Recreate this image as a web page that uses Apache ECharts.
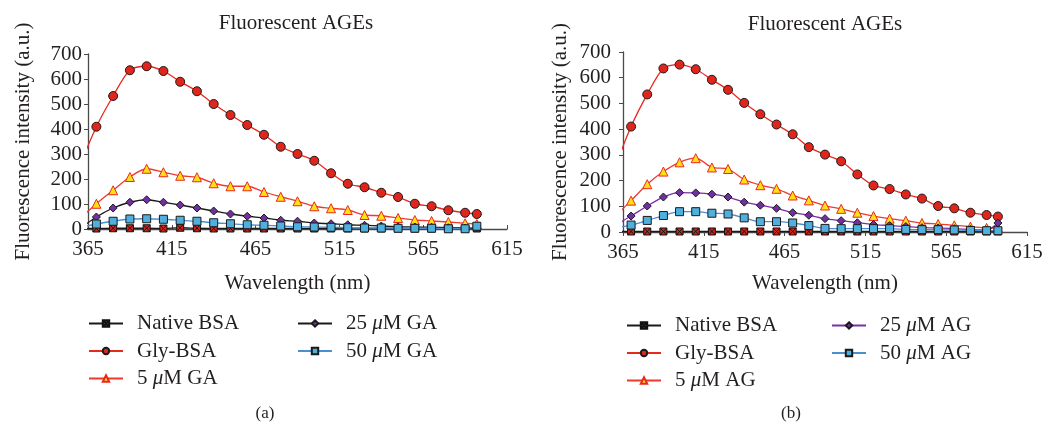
<!DOCTYPE html>
<html>
<head>
<meta charset="utf-8">
<title>Fluorescent AGEs</title>
<script src="https://cdn.jsdelivr.net/npm/echarts@6/dist/echarts.min.js"></script>
<style>
  html, body { margin: 0; padding: 0; background: #fff; }
  #chart { width: 1053px; height: 427px; }
</style>
</head>
<body>
<div id="chart"></div>
<script>
// wavelength (nm); first point sits left of the axis min and gets clipped
const wavelength = [360, 370, 380, 390, 400, 410, 420, 430, 440, 450, 460, 470, 480, 490, 500, 510, 520, 530, 540, 550, 560, 570, 580, 590, 597]
const xTicks = [365, 415, 465, 515, 565, 615]

// (a) GA
const nativeGA = [2, 2, 3, 3, 3, 2, 5, 3, 2, 2, 2, 2, 2, 2, 2, 2, 2, 2, 2, 2, 2, 2, 2, 2, 2]
const glyBSA = [250, 409, 532, 635, 651, 632, 589, 551, 500, 456, 416, 377, 329, 300, 273, 223, 181, 167, 145, 128, 101, 91, 75, 65, 60]
const ga5 = [40, 101, 155, 208, 241, 227, 213, 207, 183, 171, 171, 148, 129, 111, 91, 83, 76, 56, 53, 44, 36, 32, 28, 23, 20]
const ga25 = [0, 48, 84, 107, 117, 107, 96, 84, 72, 60, 51, 44, 35, 31, 24, 21, 17, 15, 12, 9, 8, 7, 5, 4, 4]
const ga50 = [5, 20, 31, 40, 41, 39, 35, 31, 25, 21, 17, 15, 12, 9, 8, 7, 5, 4, 4, 3, 3, 3, 1, 1, 11]

// (b) AG
const nativeAG = [2, 2, 2, 2, 2, 2, 2, 2, 2, 2, 2, 2, 2, 2, 2, 2, 2, 2, 2, 2, 2, 2, 2, 2, 2]
const glyBSA2 = [250, 410, 535, 636, 651, 633, 592, 553, 502, 458, 418, 380, 330, 301, 275, 224, 181, 167, 146, 130, 101, 92, 75, 66, 60]
const ag5 = [60, 122, 186, 235, 271, 287, 251, 245, 204, 182, 168, 142, 123, 103, 90, 75, 62, 52, 44, 35, 31, 26, 21, 16, 15]
const ag25 = [25, 62, 101, 136, 153, 152, 147, 136, 116, 104, 92, 75, 65, 52, 44, 36, 29, 25, 21, 17, 16, 13, 10, 8, 35]
const ag50 = [15, 27, 45, 64, 79, 79, 73, 70, 55, 40, 40, 35, 25, 14, 13, 13, 13, 13, 10, 9, 9, 8, 6, 5, 5]

const FONT = '"Liberation Serif", "Times New Roman", serif'
const TXT = '#231f20'
const AXIS = '#4a4a4a'
const crossBox = 'path://M0,0H10V10H0Z M0,0L10,10 M10,0L0,10'

function pairs(ys) {
  return wavelength.map((x, i) => [x, ys[i]])
}

// marker / line look per series kind
const looks = {
  native: { symbol: crossBox, size: 7, fill: '#d8231c', border: '#111', line: '#1a1a1a' },
  gly: { symbol: 'circle', size: 9, fill: '#e0261c', border: '#1a1a1a', line: '#e8291e' },
  low: { symbol: 'triangle', size: 9, fill: '#ffe014', border: '#e8291e', line: '#ee3a2e' },
  mid: { symbol: 'diamond', size: 8, fill: '#7030a0', border: '#1a1a1a', line: '#1a1a1a' },
  high: { symbol: 'rect', size: 8, fill: '#4fb0dd', border: '#1a1a1a', line: '#4a8fd2' }
}

function makeSeries(name, ys, look, idx, lineColor) {
  return {
    name: name,
    type: 'line',
    xAxisIndex: idx,
    yAxisIndex: idx,
    data: pairs(ys),
    smooth: 0.3,
    symbol: look.symbol,
    symbolSize: look.size,
    showAllSymbol: true,
    clip: true,
    lineStyle: { color: lineColor || look.line, width: 1.3 },
    itemStyle: { color: look.fill, borderColor: look.border, borderWidth: 1 },
    emphasis: { disabled: true }
  }
}

function xAxis(idx, tickInside) {
  return {
    gridIndex: idx,
    type: 'value',
    min: 365,
    max: 615,
    interval: 50,
    name: 'Wavelength (nm)',
    nameLocation: 'middle',
    nameGap: idx === 0 ? 44 : 41,
    nameTextStyle: { fontFamily: FONT, fontSize: 21, color: TXT },
    splitLine: { show: false },
    axisLine: { lineStyle: { color: AXIS, width: 1.3 } },
    axisTick: { inside: tickInside, length: 4, lineStyle: { color: AXIS } },
    axisLabel: { fontFamily: FONT, fontSize: 21, color: TXT, margin: 10, showMinLabel: true, showMaxLabel: true }
  }
}

function yAxis(idx) {
  return {
    gridIndex: idx,
    type: 'value',
    min: 0,
    max: 700,
    interval: 100,
    name: 'Fluorescence intensity (a.u.)',
    nameLocation: 'middle',
    nameGap: idx === 0 ? 54 : 52,
    nameTextStyle: { fontFamily: FONT, fontSize: 21, color: TXT },
    splitLine: { show: false },
    axisLine: { show: true, lineStyle: { color: AXIS, width: 1.3 } },
    axisTick: { show: true, length: 4, lineStyle: { color: AXIS } },
    axisLabel: { fontFamily: FONT, fontSize: 21, color: TXT, margin: idx === 0 ? 6 : 12 }
  }
}

function legend(names, left, top) {
  return {
    orient: 'vertical',
    left: left,
    top: top,
    padding: 0,
    itemGap: 6.5,
    itemWidth: 34,
    itemHeight: 8,
    data: names,
    selectedMode: false,
    formatter: n => n.replace('μ', '{i|μ}'),
    textStyle: {
      fontFamily: FONT, fontSize: 21, color: TXT, padding: [0, 0, 0, 9],
      rich: { i: { fontFamily: FONT, fontSize: 21, fontStyle: 'italic', color: TXT } }
    }
  }
}

const chart = echarts.init(document.getElementById('chart'), null, { renderer: 'canvas' })

const titleStyle = { fontFamily: FONT, fontSize: 21, fontWeight: 'normal', color: TXT }
const capStyle = { fontFamily: FONT, fontSize: 17, fontWeight: 'normal', color: TXT }

chart.setOption({
  animation: false,
  title: [
    { text: 'Fluorescent AGEs', left: 296, top: 13, textAlign: 'center', textStyle: titleStyle, padding: 0 },
    { text: 'Fluorescent AGEs', left: 825, top: 14, textAlign: 'center', textStyle: titleStyle, padding: 0 },
    { text: '(a)', left: 265, top: 405, textAlign: 'center', textStyle: capStyle, padding: 0 },
    { text: '(b)', left: 791, top: 405, textAlign: 'center', textStyle: capStyle, padding: 0 }
  ],
  grid: [
    { left: 88, top: 54, width: 419, height: 175 },
    { left: 623, top: 52, width: 404, height: 180 }
  ],
  xAxis: [xAxis(0, true), xAxis(1, false)],
  yAxis: [yAxis(0), yAxis(1)],
  legend: [
    legend(['Native BSA', 'Gly-BSA', '5 μM GA'], 88, 313),
    legend(['25 μM GA', '50 μM GA'], 297, 313),
    legend(['Native BSA', 'Gly-BSA', '5 μM AG'], 626, 315),
    legend(['25 μM AG', '50 μM AG'], 831, 315)
  ],
  series: [
    makeSeries('Native BSA', nativeGA, looks.native, 0),
    makeSeries('Gly-BSA', glyBSA, looks.gly, 0),
    makeSeries('5 μM GA', ga5, looks.low, 0),
    makeSeries('25 μM GA', ga25, looks.mid, 0),
    makeSeries('50 μM GA', ga50, looks.high, 0),
    makeSeries('Native BSA', nativeAG, looks.native, 1),
    makeSeries('Gly-BSA', glyBSA2, looks.gly, 1),
    makeSeries('5 μM AG', ag5, looks.low, 1),
    makeSeries('25 μM AG', ag25, looks.mid, 1, '#7a2fa8'),
    makeSeries('50 μM AG', ag50, looks.high, 1)
  ]
})
</script>
</body>
</html>
